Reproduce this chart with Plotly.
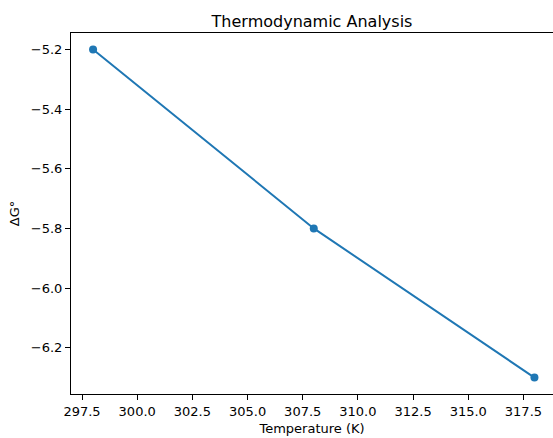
import plotly.graph_objects as go

temperature = [298, 308, 318]
delta_g = [-5.2, -5.8, -6.3]

fig = go.Figure()
fig.add_trace(go.Scatter(
    x=temperature, y=delta_g, mode="lines+markers",
    line=dict(color="#1f77b4", width=2),
    marker=dict(color="#1f77b4", size=8),
    showlegend=False,
))

font = "DejaVu Sans"
fig.update_layout(
    width=553, height=438,
    margin=dict(l=71, r=0, t=33, b=44),
    paper_bgcolor="white", plot_bgcolor="white",
    font=dict(family=font, size=13, color="black"),
    title=dict(text="Thermodynamic Analysis", x=0.5, xref="paper", xanchor="center",
               y=1, yref="paper", yanchor="bottom", pad=dict(b=6),
               font=dict(family=font, size=16, color="black")),
)
fig.update_xaxes(
    range=[297.0, 318.84], tick0=297.5, dtick=2.5, tickformat=".1f",
    showgrid=False, zeroline=False,
    showline=True, linecolor="black", linewidth=1, mirror=True,
    ticks="outside", ticklen=5, tickcolor="black", tickwidth=1,
    title=dict(text="Temperature (K)", standoff=6, font=dict(family=font, size=13)),
)
fig.update_yaxes(
    range=[-6.355, -5.145], tick0=-6.2, dtick=0.2, tickformat=".1f",
    showgrid=False, zeroline=False,
    showline=True, linecolor="black", linewidth=1, mirror=False,
    ticks="outside", ticklen=5, tickcolor="black", tickwidth=1,
    title=dict(text="ΔG°", standoff=8, font=dict(family=font, size=13)),
)

fig.write_html("out.html")
